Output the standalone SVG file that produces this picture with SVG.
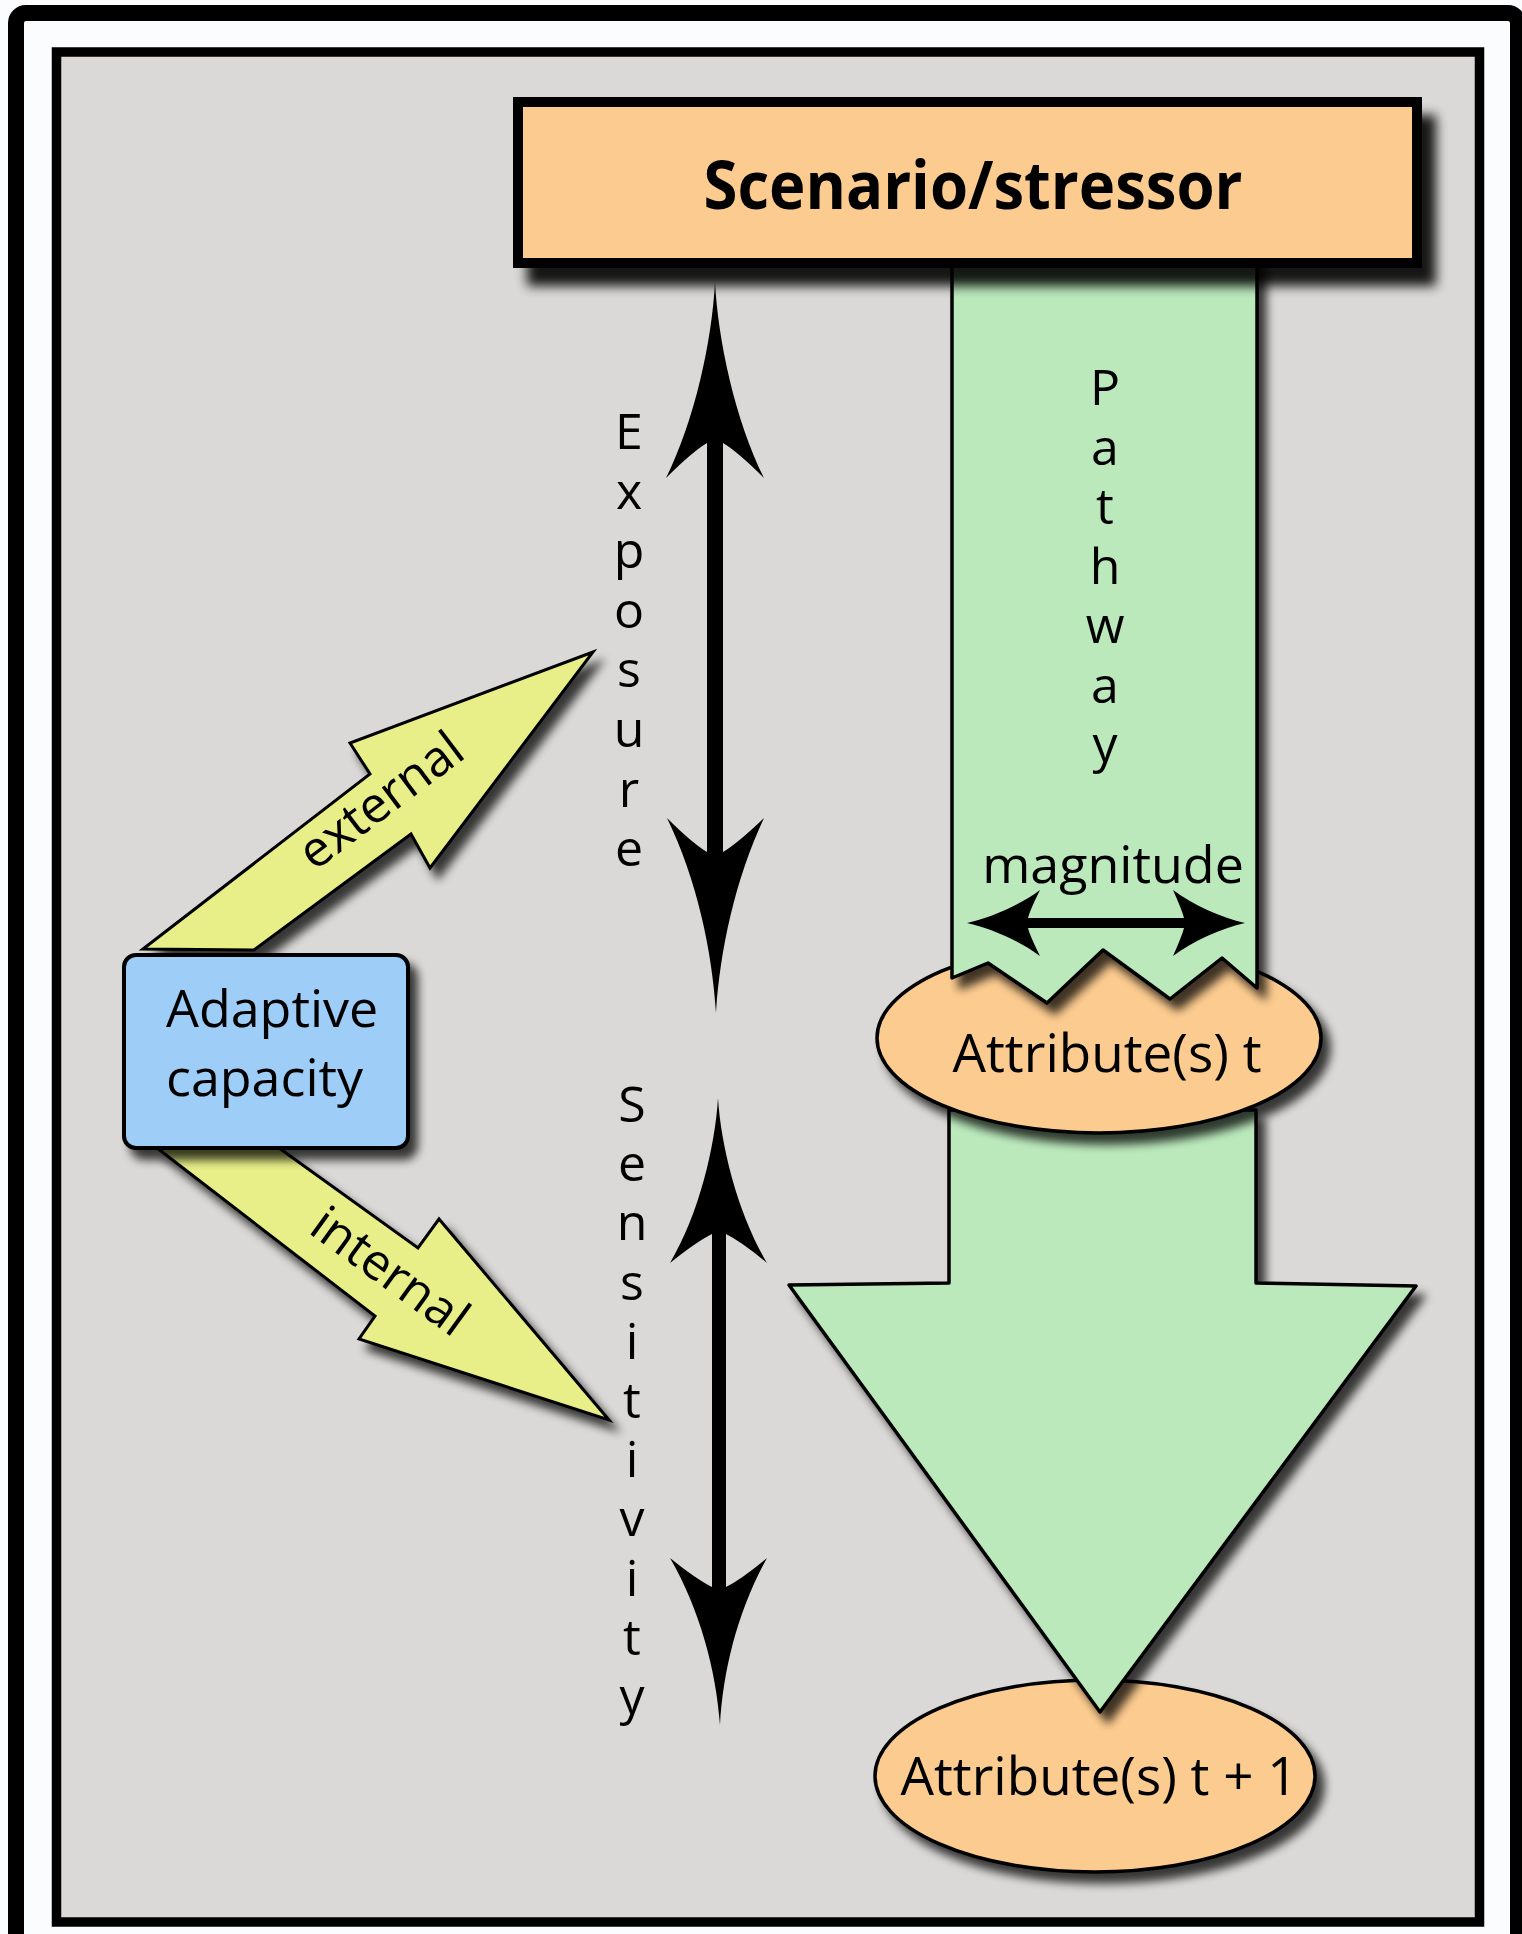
<svg xmlns="http://www.w3.org/2000/svg" width="1522" height="1934" viewBox="0 0 1522 1934">
<defs>
<style>
.lbl{font-family:"Open Sans","Liberation Sans",sans-serif;font-size:50px;fill:#000}
.ol{stroke:#000;stroke-width:3.5;stroke-linejoin:round}
.green{fill:#BBE9BC}
.orange{fill:#FCCB8F}
.yellow{fill:#E8EE88}
</style>
<filter id="sh" x="-20%" y="-20%" width="150%" height="150%">
<feGaussianBlur in="SourceAlpha" stdDeviation="5"/>
<feOffset dx="8" dy="10"/>
<feComponentTransfer><feFuncA type="linear" slope="0.75"/></feComponentTransfer>
<feMerge><feMergeNode/><feMergeNode in="SourceGraphic"/></feMerge>
</filter>
<filter id="shBig" x="-10%" y="-20%" width="130%" height="160%">
<feGaussianBlur in="SourceAlpha" stdDeviation="6"/>
<feOffset dx="14" dy="18"/>
<feComponentTransfer><feFuncA type="linear" slope="0.9"/></feComponentTransfer>
<feMerge><feMergeNode/><feMergeNode in="SourceGraphic"/></feMerge>
</filter>
</defs>

<g id="frame">
<rect x="0" y="0" width="1522" height="1934" fill="#FBFCFE"/>
<rect x="16" y="13" width="1502" height="1960" rx="10" fill="none" stroke="#000" stroke-width="16"/>
<rect x="56.5" y="52" width="1423" height="1870" fill="#DAD9D7" stroke="#000" stroke-width="9.5"/>
</g>

<g id="attr_t1">
<ellipse cx="1095" cy="1776" rx="220" ry="96" class="orange ol" filter="url(#sh)"/>
<text class="lbl" x="1099" y="1795" style="font-size:53px" text-anchor="middle">Attribute(s) t + 1</text>
</g>

<g id="impact_arrow">
<path d="M949,1110 L949,1283 L789,1285 L1100,1712 L1416,1286 L1256,1283 L1256,1110 Z" class="green ol" filter="url(#sh)"/>
</g>

<g id="attr_t">
<ellipse cx="1099" cy="1038" rx="222" ry="95" class="orange ol" filter="url(#sh)"/>
<text class="lbl" x="1107" y="1072" style="font-size:53px" text-anchor="middle">Attribute(s) t</text>
</g>

<g id="pathway">
<path d="M952,255 L952,978 L988,963 L1047,1003 L1103,950 L1170,999 L1222,958 L1257,988 L1257,255 Z" class="green ol" filter="url(#sh)"/>
<text class="lbl" text-anchor="middle">
<tspan x="1105" y="405">P</tspan><tspan x="1105" y="464.5">a</tspan><tspan x="1105" y="524">t</tspan><tspan x="1105" y="583.5">h</tspan><tspan x="1105" y="643">w</tspan><tspan x="1105" y="702.5">a</tspan><tspan x="1105" y="762">y</tspan>
</text>
<text class="lbl" x="1113" y="883" style="font-size:52px" text-anchor="middle">magnitude</text>
</g>

<g id="scenario">
<rect x="518" y="102" width="899" height="161" class="orange" stroke="#000" stroke-width="10" filter="url(#shBig)"/>
<text class="lbl" x="973" y="209" style="font-size:66px;font-weight:bold" text-anchor="middle" textLength="539" lengthAdjust="spacingAndGlyphs">Scenario/stressor</text>
</g>

<g id="external_arrow">
<path d="M143,949 L370,774 L350,743 L593,652 L430,868 L411,834 L254,950 Z" class="yellow" stroke="#000" stroke-width="3" stroke-linejoin="miter" filter="url(#sh)"/>
<text class="lbl" transform="translate(391,814) rotate(-37)" text-anchor="middle">external</text>
</g>

<g id="internal_arrow">
<path d="M157,1148 L279,1148 L418,1248 L439,1219 L609,1420 L359,1339 L375,1316 Z" class="yellow" stroke="#000" stroke-width="3" stroke-linejoin="miter" filter="url(#sh)"/>
<text class="lbl" transform="translate(380,1285) rotate(36)" text-anchor="middle">internal</text>
</g>

<g id="adaptive">
<rect x="124" y="955" width="284" height="193" rx="12" fill="#9ECDF8" stroke="#000" stroke-width="4" filter="url(#sh)"/>
<text class="lbl" x="166" y="1027" style="font-size:52px">Adaptive</text>
<text class="lbl" x="166" y="1096" style="font-size:52px">capacity</text>
</g>

<g id="connectors" fill="#000">
<path id="exposure_arrow" d="M715,282 C718,340 735,420 764,478 Q738,452 723,443 L723,852 Q738,843 764,818 C735,880 720,950 716,1013 C712,950 697,880 667,818 Q692,843 707,852 L707,443 Q692,452 666,478 C695,420 712,340 715,282 Z"/>
<path id="sensitivity_arrow" d="M718,1098 C721,1147 738,1214 767,1263 Q742,1242 726,1234 L726,1587 Q742,1579 767,1558 C738,1610 723,1670 720,1725 C716,1670 700,1610 670,1558 Q696,1579 712,1587 L712,1234 Q696,1242 670,1263 C699,1214 715,1147 718,1098 Z"/>
<path id="magnitude_arrow" d="M967,923 C990,918 1020,905 1040,890 Q1030,910 1028,918 L1184,918 Q1182,910 1173,890 C1193,905 1222,918 1245,923 C1222,928 1193,941 1173,956 Q1182,936 1184,928 L1028,928 Q1030,936 1040,956 C1020,941 990,928 967,923 Z"/>
</g>

<g id="exposure_label">
<text class="lbl" text-anchor="middle">
<tspan x="629" y="449">E</tspan><tspan x="629" y="508.6">x</tspan><tspan x="629" y="568.2">p</tspan><tspan x="629" y="627.8">o</tspan><tspan x="629" y="687.4">s</tspan><tspan x="629" y="747">u</tspan><tspan x="629" y="806.6">r</tspan><tspan x="629" y="866.2">e</tspan>
</text>
</g>

<g id="sensitivity_label">
<text class="lbl" text-anchor="middle">
<tspan x="632" y="1122">S</tspan><tspan x="632" y="1181.2">e</tspan><tspan x="632" y="1240.4">n</tspan><tspan x="632" y="1299.6">s</tspan><tspan x="632" y="1358.8">i</tspan><tspan x="632" y="1418">t</tspan><tspan x="632" y="1477.2">i</tspan><tspan x="632" y="1536.4">v</tspan><tspan x="632" y="1595.6">i</tspan><tspan x="632" y="1654.8">t</tspan><tspan x="632" y="1714">y</tspan>
</text>
</g>
</svg>
